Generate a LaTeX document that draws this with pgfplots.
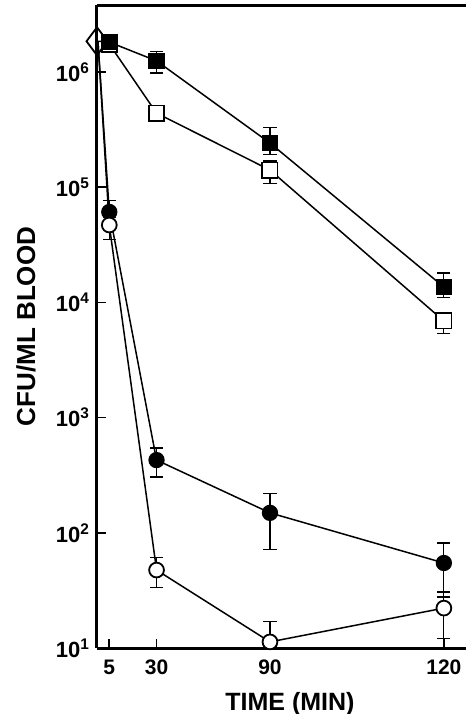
\documentclass[border=0pt]{standalone}
\usepackage{fontspec}
\setmainfont{Liberation Sans}
\usepackage{pgfplots}
\pgfplotsset{compat=1.18}
\begin{document}
\begin{tikzpicture}
\begin{axis}[
  ymode=log, scale only axis, width=184.5pt, height=321.5pt,
  at={(0,0)}, anchor=south west,
  xmin=-1.5, xmax=193.7, ymin=10, ymax=3.82e6,
  axis x line=box, axis y line=left,
  axis line style={-, line width=1.5pt},
  xtick={5,30,90,182}, xticklabels={5,30,90,120},
  xtick pos=left, xticklabel pos=left,
  ytick={10,100,1000,10000,100000,1000000},
  yticklabels={10\textsuperscript{1},10\textsuperscript{2},10\textsuperscript{3},10\textsuperscript{4},10\textsuperscript{5},10\textsuperscript{6}},
  yminorticks=false, xminorticks=false,
  tick align=inside, major tick length=4.5pt,
  tick style={line width=0.8pt, black},
  ticklabel style={font=\bfseries\fontsize{11}{12}\selectfont},
  xticklabel style={yshift=-2.5pt, font=\bfseries\fontsize{10.5}{12}\selectfont},
  xlabel={TIME (MIN)}, ylabel={CFU/ML BLOOD},
  every axis x label/.style={at={(rel axis cs:0.523,0)}, anchor=center, yshift=-27.8pt, font=\bfseries\fontsize{12.5}{14}\selectfont},
  every axis y label/.style={at={(rel axis cs:0,0.5)}, anchor=center, rotate=90, yshift=35.5pt, font=\bfseries\fontsize{13}{14}\selectfont},
  clip=false,
  every axis plot/.append style={line width=0.75pt, black},
  errs/.style={draw=none, mark=none, forget plot,
     error bars/y dir=both, error bars/y explicit,
     error bars/error bar style={draw=black, line width=0.6pt},
     error bars/error mark options={draw=black, rotate=90, line width=0.6pt, mark size=3.3pt}},
]
% connecting lines from the starting inoculum
\addplot[no marks] coordinates {(-1,1.85e6) (5,6.1e4)};
\addplot[no marks] coordinates {(-1,1.85e6) (5,4.7e4)};
\addplot[no marks] coordinates {(-1,1.85e6) (5,1.82e6)};
% starting inoculum (diamond)
\addplot[only marks, mark=diamond, mark size=7pt, mark options={fill=white, line width=0.9pt}] coordinates {(-1.5,1.85e6)};
% error bars (drawn first, under the markers)
\addplot[errs] coordinates {
  (90,1.41e5) += (0,0.28e5) -= (0,0.34e5)
  (182,6.9e3) += (0,1.2e3) -= (0,1.5e3)
};
\addplot[errs] coordinates {
  (30,1.25e6) += (0,0.27e6) -= (0,0.27e6)
  (90,2.42e5) += (0,0.9e5) -= (0,0.5e5)
  (182,1.36e4) += (0,0.44e4) -= (0,0.25e4)
};
\addplot[errs] coordinates {
  (5,6.1e4) += (0,1.6e4) -= (0,1.0e4)
  (30,428) += (0,117) -= (0,123)
  (90,149) += (0,72) -= (0,77)
  (182,54.7) += (0,27) -= (0,27)
};
\addplot[errs] coordinates {
  (5,4.7e4) += (0,0.8e4) -= (0,1.2e4)
  (30,47.5) += (0,14) -= (0,14)
  (90,11.3) += (0,5.8) -= (0,1)
  (182,22.2) += (0,8.4) -= (0,10.2)
};
% open squares
\addplot[mark=square*, mark size=3.8pt, mark options={fill=white, line width=0.9pt}] coordinates {
  (5,1.75e6) (30,4.4e5) (90,1.41e5) (182,6.9e3)
};
% filled squares
\addplot[mark=square*, mark size=3.8pt, mark options={fill=black}] coordinates {
  (5,1.82e6) (30,1.25e6) (90,2.42e5) (182,1.36e4)
};
% filled circles
\addplot[mark=*, mark size=3.7pt, mark options={fill=black}] coordinates {
  (5,6.1e4) (30,428) (90,149) (182,54.7)
};
% open circles
\addplot[mark=*, mark size=3.7pt, mark options={fill=white, line width=0.9pt}] coordinates {
  (5,4.7e4) (30,47.5) (90,11.3) (182,22.2)
};
\end{axis}
\pgfresetboundingbox
\path[use as bounding box] (-48.5pt,-33pt) rectangle (184.5pt,324pt);
\end{tikzpicture}
\end{document}
